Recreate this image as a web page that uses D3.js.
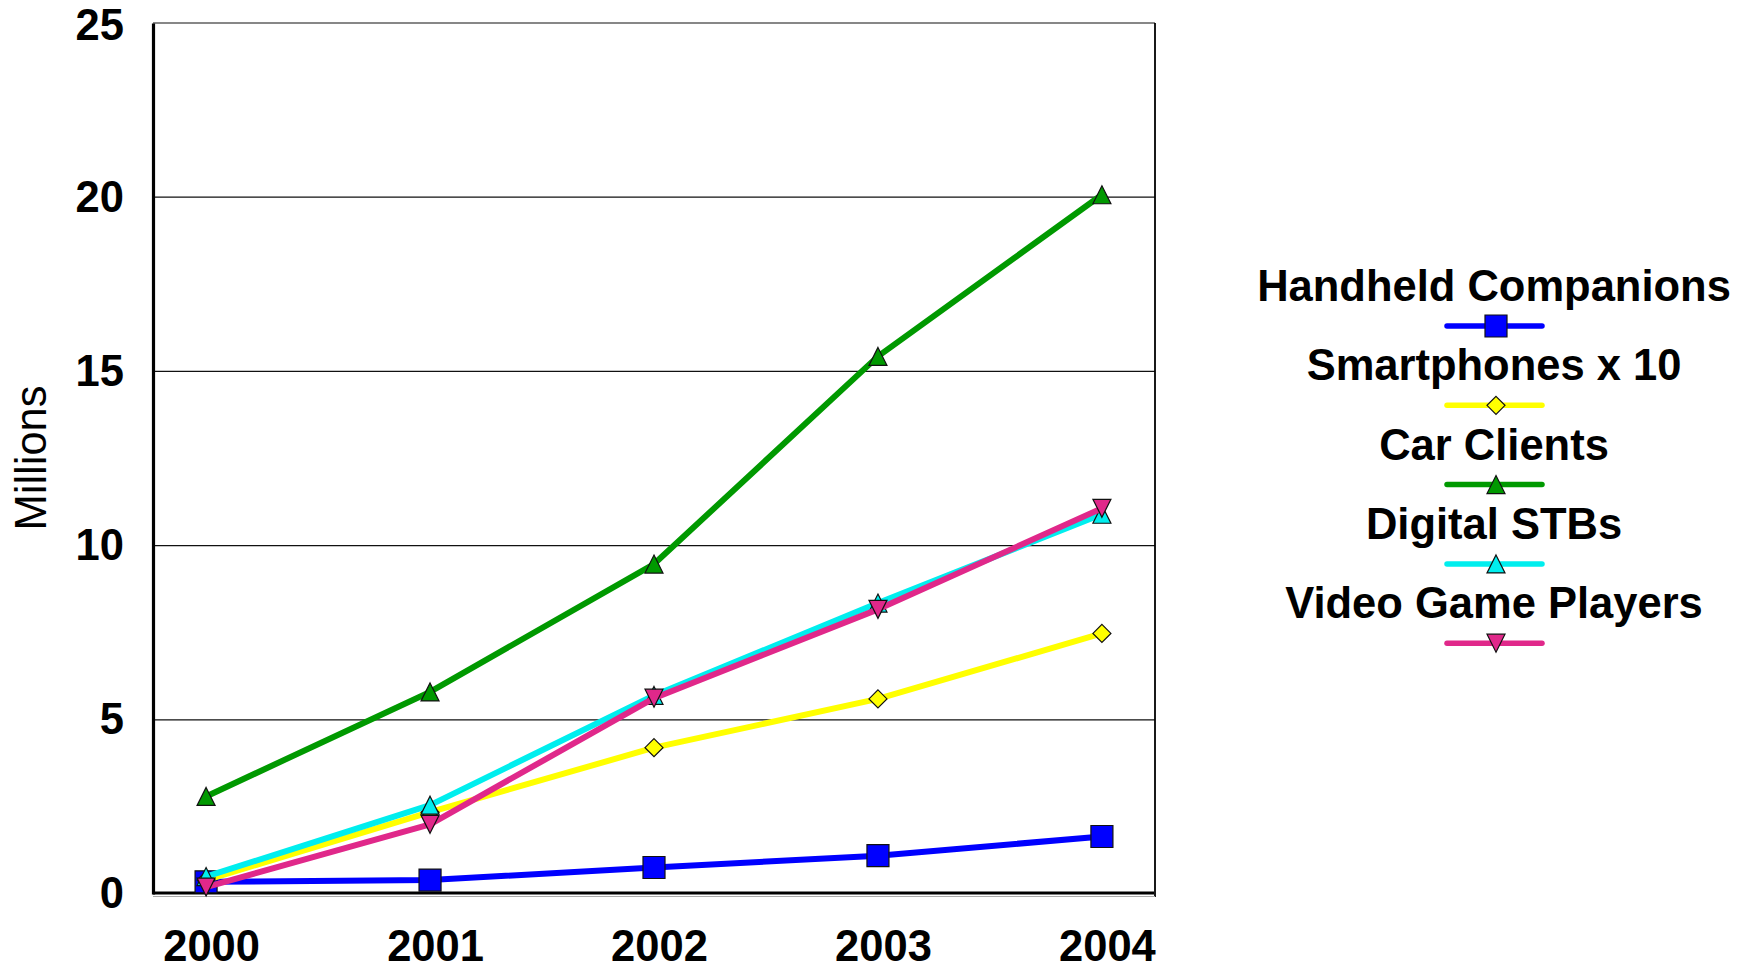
<!DOCTYPE html>
<html>
<head>
<meta charset="utf-8">
<script src="https://cdn.jsdelivr.net/npm/d3@7/dist/d3.min.js"></script>
<style>
  html, body { margin: 0; padding: 0; background: #fff; }
  svg { display: block; font-family: "Liberation Sans", Arial, sans-serif; }
</style>
</head>
<body>
<svg id="chart" width="1751" height="970"></svg>
<script>
// Unit shipments, millions
const years = ["2000", "2001", "2002", "2003", "2004"];
const handheld   = [0.35, 0.40, 0.76, 1.10, 1.65];
const smartphones = [0.40, 2.35, 4.20, 5.60, 7.48];
const carClients = [2.80, 5.80, 9.47, 15.43, 20.07];
const digitalSTBs = [0.50, 2.55, 5.70, 8.35, 10.90];
const videoGame  = [0.20, 2.00, 5.62, 8.17, 11.07];
const yTicks = [0, 5, 10, 15, 20, 25];

const seriesNames = ["Handheld Companions", "Smartphones x 10", "Car Clients", "Digital STBs", "Video Game Players"];
const seriesValues = [handheld, smartphones, carClients, digitalSTBs, videoGame];
const seriesColors = ["#0000ff", "#ffff00", "#009900", "#00eeee", "#e0288a"];
const seriesMarkers = ["square", "diamond", "triangleUp", "triangleUp", "triangleDown"];

const svg = d3.select("#chart");
const plot = { left: 153, right: 1155, top: 23, bottom: 894 };
const labelSize = 43.5;

const x = d3.scalePoint().domain(years).range([plot.left, plot.right]).padding(0.237);
const y = d3.scaleLinear().domain([0, 25]).range([plot.bottom, plot.top]);

// marker path generator centred on (0,0)
function markerPath(type) {
  switch (type) {
    case "square": return "M-11,-11H11V11H-11Z";
    case "diamond": return "M0,-9L9,0L0,9L-9,0Z";
    case "triangleUp": return "M0,-9L9,9L-9,9Z";
    case "triangleDown": return "M0,9L9,-9L-9,-9Z";
  }
}

// horizontal gridlines
svg.append("g")
  .selectAll("line")
  .data(yTicks.filter(t => t > 0))
  .join("line")
  .attr("x1", plot.left).attr("x2", plot.right)
  .attr("y1", d => y(d)).attr("y2", d => y(d))
  .attr("stroke", "#111").attr("stroke-width", 1.2);

// frame: right border thin, left and bottom axes heavy
svg.append("line")
  .attr("x1", plot.right).attr("x2", plot.right)
  .attr("y1", plot.top).attr("y2", plot.bottom + 3)
  .attr("stroke", "#000").attr("stroke-width", 1.8);
svg.append("line")
  .attr("x1", plot.left).attr("x2", plot.right)
  .attr("y1", plot.bottom + 2.5).attr("y2", plot.bottom + 2.5)
  .attr("stroke", "#aaa").attr("stroke-width", 1);

// y axis with bold tick labels
const yAxis = svg.append("g")
  .attr("transform", `translate(${plot.left},0)`)
  .call(d3.axisLeft(y).tickValues(yTicks).tickSize(0).tickPadding(29).tickFormat(d3.format("d")));
yAxis.select(".domain")
  .attr("stroke", "#000").attr("stroke-width", 3.2);
yAxis.selectAll("text")
  .attr("font-size", labelSize).attr("font-weight", "bold").attr("fill", "#000")
  .attr("font-family", "Liberation Sans, Arial, sans-serif");
// keep the top label's box inside the canvas
yAxis.selectAll(".tick").filter(d => d === 25).select("text").attr("dy", "0.37em");

// x axis
const xAxis = svg.append("g")
  .attr("transform", `translate(0,${plot.bottom - 1})`)
  .call(d3.axisBottom(x).tickSize(0).tickPadding(37));
xAxis.select(".domain")
  .attr("d", `M${plot.left},0H${plot.right - 1}`)
  .attr("stroke", "#000").attr("stroke-width", 3.2);
xAxis.selectAll("text")
  .attr("font-size", labelSize).attr("font-weight", "bold").attr("fill", "#000")
  .attr("dx", 5)
  .attr("font-family", "Liberation Sans, Arial, sans-serif");

// y axis title
svg.append("text")
  .attr("transform", "translate(46,458) rotate(-90)")
  .attr("text-anchor", "middle")
  .attr("font-size", labelSize)
  .attr("fill", "#000")
  .text("Millions");

// series lines and markers, drawn in series order
const line = d3.line().x((d, i) => x(years[i])).y(d => y(d));
seriesValues.forEach((vals, s) => {
  const g = svg.append("g");
  g.append("path")
    .attr("d", line(vals))
    .attr("fill", "none")
    .attr("stroke", seriesColors[s])
    .attr("stroke-width", 6)
    .attr("stroke-linejoin", "round");
  g.selectAll("path.m")
    .data(vals)
    .join("path")
    .attr("class", "m")
    .attr("transform", (d, i) => `translate(${x(years[i])},${y(d)})`)
    .attr("d", markerPath(seriesMarkers[s]))
    .attr("fill", seriesColors[s])
    .attr("stroke", "#111")
    .attr("stroke-width", 1.2);
});

// legend
const legendX = 1494;
const legend = svg.append("g");
seriesNames.forEach((name, s) => {
  const base = 301 + s * 79.3;
  legend.append("text")
    .attr("x", legendX).attr("y", base)
    .attr("text-anchor", "middle")
    .attr("font-size", labelSize).attr("font-weight", "bold")
    .attr("fill", "#000")
    .text(name);
  const ly = base + 25;
  legend.append("line")
    .attr("x1", legendX - 47).attr("x2", legendX + 48)
    .attr("y1", ly).attr("y2", ly)
    .attr("stroke", seriesColors[s]).attr("stroke-width", 5.5)
    .attr("stroke-linecap", "round");
  legend.append("path")
    .attr("transform", `translate(${legendX + 2},${ly})`)
    .attr("d", markerPath(seriesMarkers[s]))
    .attr("fill", seriesColors[s])
    .attr("stroke", "#111").attr("stroke-width", 1.2);
});
</script>
</body>
</html>
